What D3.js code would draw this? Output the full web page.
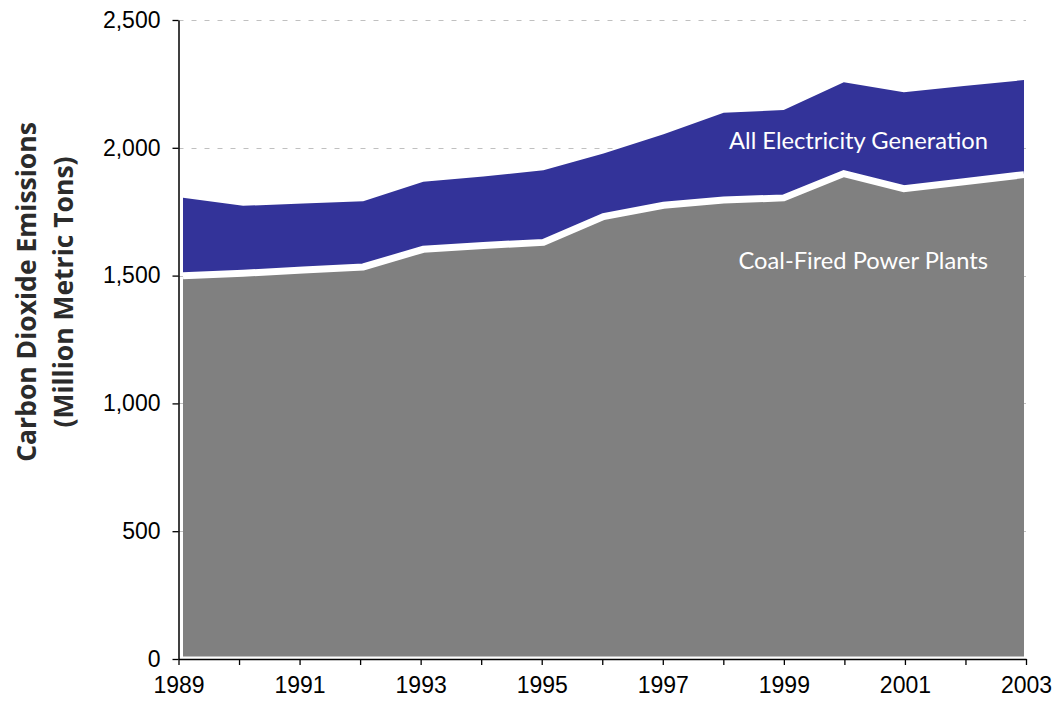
<!DOCTYPE html>
<html>
<head>
<meta charset="utf-8">
<script src="https://cdn.jsdelivr.net/npm/d3@7"></script>
<style>
  html, body { margin: 0; padding: 0; background: #fff; }
  svg { display: block; }
</style>
</head>
<body>
<svg id="chart" width="1063" height="706"></svg>
<script>
// ---- data ----
const years = [1989,1990,1991,1992,1993,1994,1995,1996,1997,1998,1999,2000,2001,2002,2003];
const allElectricity = [1805,1773,1782,1791,1867,1888,1912,1978,2053,2137,2148,2256,2217,2242,2265];
const coalFired = [1499,1509,1522,1534,1603,1618,1630,1731,1775,1796,1804,1899,1840,1867,1895];
const yTicks = [0,500,1000,1500,2000,2500];
const xLabelYears = [1989,1991,1993,1995,1997,1999,2001,2003];
const seriesLabels = ["All Electricity Generation", "Coal-Fired Power Plants"];
const yTitle = ["Carbon Dioxide Emissions", "(Million Metric Tons)"];

const rows = years.map((yr, i) => ({ year: yr, total: allElectricity[i], coal: coalFired[i] }));

const svg = d3.select("#chart");
const axisFont = "'Liberation Sans', Arial, sans-serif";
const labelFont = "Lato, 'Open Sans', sans-serif";
const titleFont = "'Open Sans', Lato, sans-serif";

const x = d3.scaleLinear().domain([1989, 2003]).range([178.5, 1026]);
const xa = d3.scaleLinear().domain([1989, 2003]).range([183, 1024]);
const y = d3.scaleLinear().domain([0, 2500]).range([659, 20]);

// gridlines
svg.append("g")
  .selectAll("line")
  .data(yTicks.filter(d => d > 0))
  .join("line")
  .attr("x1", 178.5).attr("x2", 1026)
  .attr("y1", d => Math.round(y(d)) + 0.5).attr("y2", d => Math.round(y(d)) + 0.5)
  .attr("stroke", "#c0c0c0").attr("stroke-width", 1)
  .attr("stroke-dasharray", "5,8");

// areas
const blueArea = d3.area()
  .x(d => xa(d.year))
  .y0(d => y(d.coal))
  .y1(d => y(d.total));
const grayArea = d3.area()
  .x(d => xa(d.year))
  .y0(() => y(0) - 2.5)
  .y1(d => y(d.coal));
const coalLine = d3.line()
  .x(d => xa(d.year))
  .y(d => y(d.coal));

svg.append("path").datum(rows).attr("d", blueArea).attr("fill", "#333399");
svg.append("path").datum(rows).attr("d", grayArea).attr("fill", "#808080");
svg.append("path").datum(rows).attr("d", coalLine)
  .attr("fill", "none").attr("stroke", "#ffffff").attr("stroke-width", 7);

// y axis
const yAxis = d3.axisLeft(y)
  .tickValues(yTicks)
  .tickSize(6)
  .tickSizeOuter(0)
  .tickPadding(12)
  .tickFormat(d3.format(","));
const gy = svg.append("g").attr("transform", "translate(178.5,0)").call(yAxis);
gy.select(".domain").attr("stroke", "#000").attr("stroke-width", 1.5);
gy.selectAll(".tick line").attr("stroke", "#000").attr("stroke-width", 1.3);
gy.selectAll(".tick text")
  .attr("font-family", axisFont).attr("font-size", 23).attr("fill", "#000");

// x axis
const xAxis = d3.axisBottom(x)
  .tickValues(years)
  .tickSize(6)
  .tickSizeOuter(0)
  .tickPadding(12)
  .tickFormat(d => xLabelYears.includes(d) ? String(d) : "");
const gx = svg.append("g").attr("transform", "translate(0,659)").call(xAxis);
gx.select(".domain").attr("stroke", "#000").attr("stroke-width", 1.5);
gx.selectAll(".tick line").attr("stroke", "#000").attr("stroke-width", 1.3);
gx.selectAll(".tick text")
  .attr("font-family", axisFont).attr("font-size", 23).attr("fill", "#000");

// series labels
svg.append("text")
  .attr("x", 988).attr("y", 149)
  .attr("text-anchor", "end")
  .attr("font-family", labelFont).attr("font-size", 23.7)
  .attr("fill", "#ffffff")
  .text(seriesLabels[0]);
svg.append("text")
  .attr("x", 988).attr("y", 269)
  .attr("text-anchor", "end")
  .attr("font-family", labelFont).attr("font-size", 23.7)
  .attr("fill", "#ffffff")
  .text(seriesLabels[1]);

// y title
const t = svg.append("text")
  .attr("transform", "translate(0,292) rotate(-90)")
  .attr("text-anchor", "middle")
  .attr("font-family", titleFont).attr("font-weight", 700)
  .attr("font-size", 26.5).attr("fill", "#2b2b2b");
t.append("tspan").attr("x", 0).attr("y", 36).text(yTitle[0]);
t.append("tspan").attr("x", 0).attr("y", 73).text(yTitle[1]);
</script>
</body>
</html>
